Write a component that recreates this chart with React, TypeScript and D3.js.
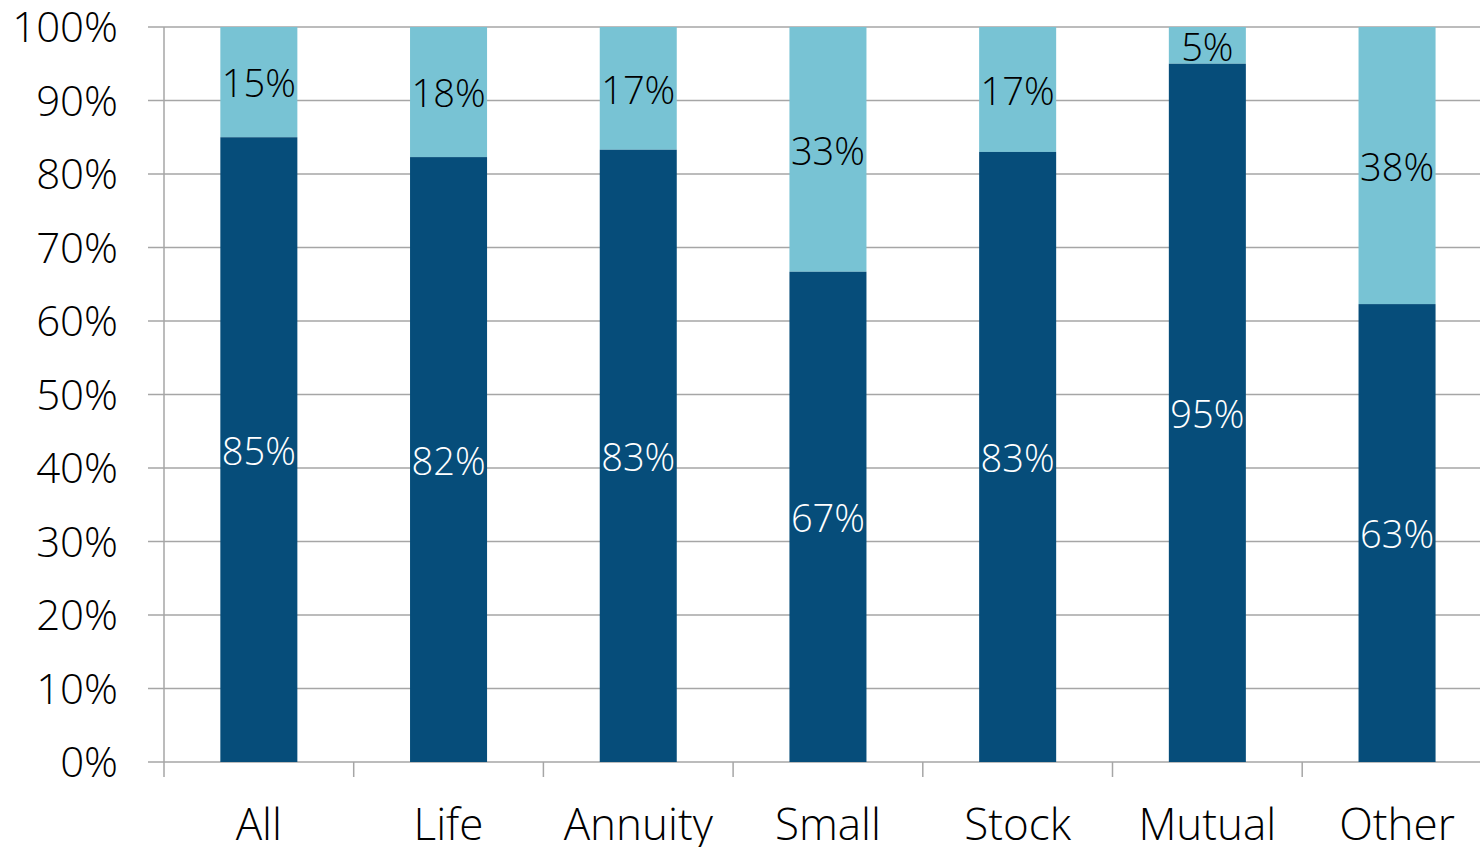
import React, { useEffect, useRef } from 'react';
import * as d3 from 'd3';

const categories = ['All', 'Life', 'Annuity', 'Small', 'Stock', 'Mutual', 'Other'];
// bottom (dark) segment, percent of total
const darkValues = [85, 82.3, 83.3, 66.7, 83, 95, 62.3];
const darkLabels = ['85%', '82%', '83%', '67%', '83%', '95%', '63%'];
const lightLabels = ['15%', '18%', '17%', '33%', '17%', '5%', '38%'];
const yTicks = [0, 10, 20, 30, 40, 50, 60, 70, 80, 90, 100];

const W = 1480;
const H = 847;
const FONT = '"Open Sans", "Segoe UI", sans-serif';

export default function App() {
  const ref = useRef<SVGSVGElement>(null);

  useEffect(() => {
    const svg = d3.select(ref.current);
    svg.selectAll('*').remove();

    const left = 164, top = 27, bottom = 762;
    const band = 189.7;

    const x = d3.scaleBand().domain(categories).range([left, left + band * categories.length]).paddingInner(0.594).paddingOuter(0.297);
    const y = d3.scaleLinear().domain([0, 100]).range([bottom, top]);

    // gridlines
    svg.append('g').selectAll('line').data(yTicks).join('line')
      .attr('x1', left - 16).attr('x2', W)
      .attr('y1', d => y(d)).attr('y2', d => y(d))
      .attr('stroke', '#a6a6a6').attr('stroke-width', 1.5);

    // y axis line
    svg.append('line').attr('x1', left).attr('x2', left).attr('y1', top).attr('y2', bottom + 15)
      .attr('stroke', '#a6a6a6').attr('stroke-width', 1.5);

    // x ticks at category boundaries
    const bounds = d3.range(1, categories.length).map(i => left + i * x.step());
    svg.append('g').selectAll('line').data(bounds).join('line')
      .attr('x1', d => d).attr('x2', d => d).attr('y1', bottom).attr('y2', bottom + 15)
      .attr('stroke', '#a6a6a6').attr('stroke-width', 1.5);

    // y tick labels
    svg.append('g').selectAll('text').data(yTicks).join('text')
      .attr('x', 118).attr('y', d => y(d))
      .attr('dy', '0.36em')
      .attr('text-anchor', 'end')
      .attr('font-family', FONT).attr('font-weight', 300).attr('font-size', 42)
      .attr('fill', '#000')
      .text(d => `${d}%`);

    const data = categories.map((c, i) => ({ c, dark: darkValues[i], dl: darkLabels[i], ll: lightLabels[i] }));

    const g = svg.append('g');
    g.selectAll('rect.light').data(data).join('rect')
      .attr('class', 'light')
      .attr('x', d => x(d.c)!).attr('width', x.bandwidth())
      .attr('y', y(100)).attr('height', d => y(d.dark) - y(100))
      .attr('fill', '#78c3d4');
    g.selectAll('rect.dark').data(data).join('rect')
      .attr('class', 'dark')
      .attr('x', d => x(d.c)!).attr('width', x.bandwidth())
      .attr('y', d => y(d.dark)).attr('height', d => y(0) - y(d.dark))
      .attr('fill', '#064d7a');

    g.selectAll('text.dl').data(data).join('text')
      .attr('class', 'dl')
      .attr('x', d => x(d.c)! + x.bandwidth() / 2)
      .attr('y', d => (y(d.dark) + y(0)) / 2)
      .attr('dy', '0.4em').attr('text-anchor', 'middle')
      .attr('font-family', FONT).attr('font-weight', 300).attr('font-size', 38)
      .attr('fill', '#fff')
      .text(d => d.dl);
    g.selectAll('text.ll').data(data).join('text')
      .attr('class', 'll')
      .attr('x', d => x(d.c)! + x.bandwidth() / 2)
      .attr('y', d => (y(d.dark) + y(100)) / 2)
      .attr('dy', '0.4em').attr('text-anchor', 'middle')
      .attr('font-family', FONT).attr('font-weight', 300).attr('font-size', 38)
      .attr('fill', '#000')
      .text(d => d.ll);

    // category labels
    svg.append('g').selectAll('text').data(categories).join('text')
      .attr('x', d => x(d)! + x.bandwidth() / 2)
      .attr('y', 825).attr('dy', '0.35em')
      .attr('text-anchor', 'middle')
      .attr('font-family', FONT).attr('font-weight', 300).attr('font-size', 44)
      .attr('fill', '#000')
      .text(d => d);
  }, []);

  return (
    <svg ref={ref} width={W} height={H} style={{ position: 'absolute', left: 0, top: 0, display: 'block' }} />
  );
}
